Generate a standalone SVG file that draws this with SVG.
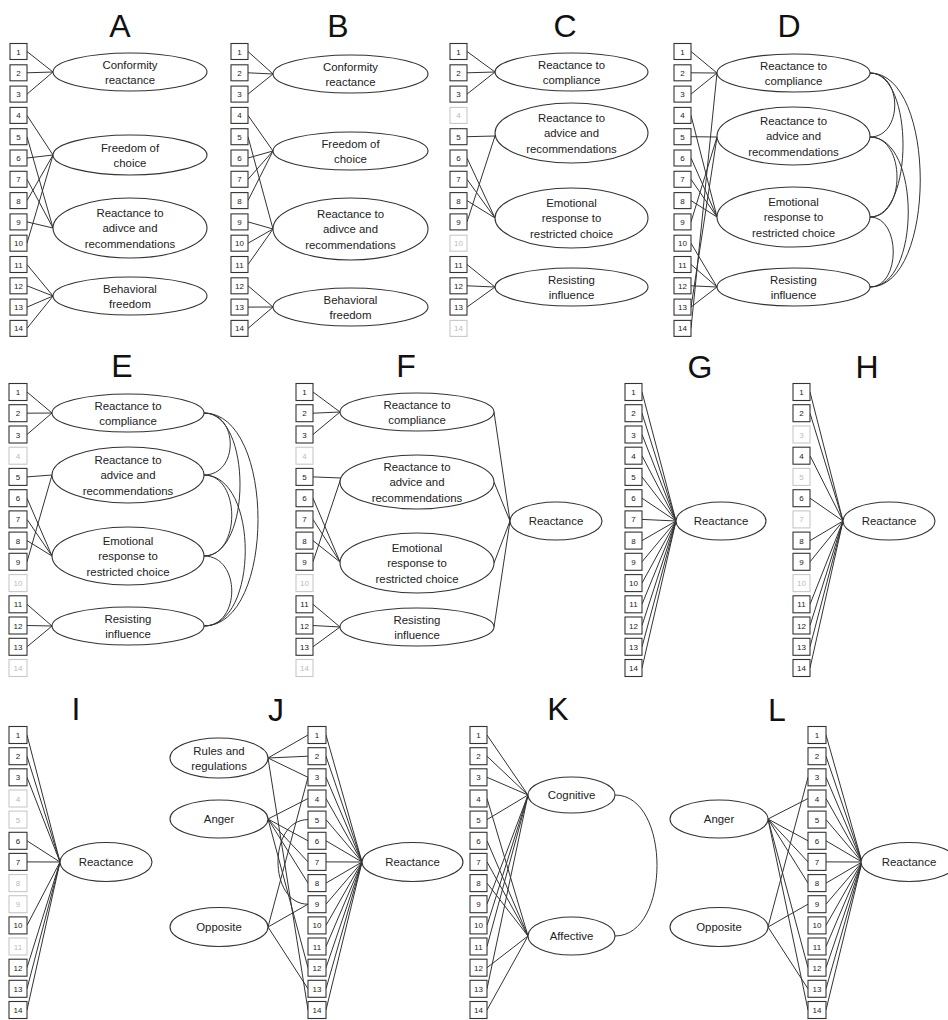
<svg xmlns="http://www.w3.org/2000/svg" width="948" height="1020" viewBox="0 0 948 1020">
<style>
.t{font-family:"Liberation Sans",Arial,sans-serif;font-size:32px;fill:#111;text-anchor:middle}
.bx rect{fill:#fff;stroke:#333;stroke-width:1.1}
.bx text{font-family:"Liberation Sans",Arial,sans-serif;font-size:8px;fill:#222;text-anchor:middle}
.gr rect{fill:#fff;stroke:#c8c8c8;stroke-width:1.1}
.gr text{font-family:"Liberation Sans",Arial,sans-serif;font-size:8px;fill:#bbb;text-anchor:middle}
.el ellipse{fill:#fff;stroke:#333;stroke-width:1.1}
.el text{font-family:"Liberation Sans",Arial,sans-serif;font-size:11.4px;fill:#222;text-anchor:middle}
.cn path{fill:none;stroke:#333;stroke-width:1}
</style>
<rect width="948" height="1020" fill="#fff"/>
<g id="titles">
<text class="t" x="120" y="37">A</text>
<text class="t" x="338" y="37">B</text>
<text class="t" x="565" y="37">C</text>
<text class="t" x="789" y="37">D</text>
<text class="t" x="122" y="377">E</text>
<text class="t" x="406" y="377">F</text>
<text class="t" x="700" y="378">G</text>
<text class="t" x="867" y="378">H</text>
<text class="t" x="76" y="720">I</text>
<text class="t" x="276" y="721">J</text>
<text class="t" x="558" y="720">K</text>
<text class="t" x="777" y="721">L</text>
</g>
<g id="connectors" class="cn">
<!-- A -->
<path d="M27 51.5L53 72"/><path d="M27 72.8L53 72"/><path d="M27 94.1L53 72"/>
<path d="M27 115.4L53 155"/><path d="M27 158L53 155"/><path d="M27 200.6L53 155"/><path d="M27 243.2L53 155"/>
<path d="M27 136.7L53 228"/><path d="M27 179.3L53 228"/><path d="M27 221.9L53 228"/>
<path d="M27 264.5L53 296"/><path d="M27 285.8L53 296"/><path d="M27 307.1L53 296"/><path d="M27 328.4L53 296"/>
<!-- B -->
<path d="M248 51.5L273 74"/><path d="M248 72.8L273 74"/><path d="M248 94.1L273 74"/>
<path d="M248 115.4L273 151"/><path d="M248 158L273 151"/><path d="M248 179.3L273 151"/><path d="M248 200.6L273 151"/>
<path d="M248 136.7L273 229"/><path d="M248 221.9L273 229"/><path d="M248 243.2L273 229"/><path d="M248 264.5L273 229"/>
<path d="M248 285.8L273 307"/><path d="M248 307.1L273 307"/><path d="M248 328.4L273 307"/>
<!-- C -->
<path d="M467 51.5L495 72"/><path d="M467 72.8L495 72"/><path d="M467 94.1L495 72"/>
<path d="M467 136.7L495 136"/><path d="M467 221.9L495 136"/>
<path d="M467 158L495 218"/><path d="M467 179.3L495 218"/><path d="M467 200.6L495 218"/>
<path d="M467 264.5L495 287"/><path d="M467 285.8L495 287"/><path d="M467 307.1L495 287"/>
<!-- D -->
<path d="M691 51.5L717 73"/><path d="M691 72.8L717 73"/><path d="M691 94.1L717 73"/><path d="M691 328.4L717 73"/>
<path d="M691 136.7L717 137"/><path d="M691 221.9L717 137"/><path d="M691 307.1L717 137"/>
<path d="M691 115.4L717 217"/><path d="M691 158L717 217"/><path d="M691 179.3L717 217"/><path d="M691 200.6L717 217"/>
<path d="M691 243.2L717 287"/><path d="M691 264.5L717 287"/><path d="M691 285.8L717 287"/><path d="M691 307.1L717 287"/>
<path d="M870 73C903 73 903 137 870 137"/>
<path d="M870 73C914 73 914 217 870 217"/>
<path d="M870 73C937 73 937 287 870 287"/>
<path d="M870 137C906 137 906 217 870 217"/>
<path d="M870 137C921 137 921 287 870 287"/>
<path d="M870 217C901 217 901 287 870 287"/>
<!-- E -->
<path d="M27 392L52 413"/><path d="M27 413.2L52 413"/><path d="M27 434.5L52 413"/>
<path d="M27 476.9L52 475"/><path d="M27 561.8L52 475"/>
<path d="M27 498.2L52 556"/><path d="M27 519.4L52 556"/><path d="M27 540.6L52 556"/>
<path d="M27 604.3L52 626"/><path d="M27 625.5L52 626"/><path d="M27 646.8L52 626"/>
<path d="M204 413C239 413 239 475 204 475"/>
<path d="M204 413C252 413 252 556 204 556"/>
<path d="M204 413C276 413 276 626 204 626"/>
<path d="M204 475C241 475 241 556 204 556"/>
<path d="M204 475C259 475 259 626 204 626"/>
<path d="M204 556C241 556 241 626 204 626"/>
<!-- F -->
<path d="M313 392L340 412"/><path d="M313 413.2L340 412"/><path d="M313 434.5L340 412"/>
<path d="M313 476.9L341 478"/><path d="M313 561.8L341 478"/>
<path d="M313 498.2L340 562"/><path d="M313 519.4L340 562"/><path d="M313 540.6L340 562"/>
<path d="M313 604.3L340 627"/><path d="M313 625.5L340 627"/><path d="M313 646.8L340 627"/>
<path d="M494 412L510 521"/><path d="M494 482L510 521"/><path d="M494 563L510 521"/><path d="M494 627L510 521"/>
<!-- G -->
<path d="M642 392L676 521"/><path d="M642 413.2L676 521"/><path d="M642 434.5L676 521"/><path d="M642 455.7L676 521"/>
<path d="M642 476.9L676 521"/><path d="M642 498.2L676 521"/><path d="M642 519.4L676 521"/><path d="M642 540.6L676 521"/>
<path d="M642 561.8L676 521"/><path d="M642 583.1L676 521"/><path d="M642 604.3L676 521"/><path d="M642 625.5L676 521"/>
<path d="M642 646.8L676 521"/><path d="M642 668L676 521"/>
<!-- H -->
<path d="M810 392L843 521"/><path d="M810 413.2L843 521"/><path d="M810 455.7L843 521"/><path d="M810 498.2L843 521"/>
<path d="M810 540.6L843 521"/><path d="M810 561.8L843 521"/><path d="M810 604.3L843 521"/><path d="M810 625.5L843 521"/>
<path d="M810 646.8L843 521"/><path d="M810 668L843 521"/>
<!-- I -->
<path d="M27 735L60 862"/><path d="M27 756.2L60 862"/><path d="M27 777.3L60 862"/><path d="M27 840.8L60 862"/>
<path d="M27 861.9L60 862"/><path d="M27 925.4L60 862"/><path d="M27 967.7L60 862"/><path d="M27 988.8L60 862"/>
<path d="M27 1010L60 862"/>
<!-- J -->
<path d="M326 735L362 862"/><path d="M326 756.2L362 862"/><path d="M326 777.3L362 862"/><path d="M326 798.5L362 862"/>
<path d="M326 819.6L362 862"/><path d="M326 840.8L362 862"/><path d="M326 861.9L362 862"/><path d="M326 883.1L362 862"/>
<path d="M326 904.2L362 862"/><path d="M326 925.4L362 862"/><path d="M326 946.5L362 862"/><path d="M326 967.7L362 862"/>
<path d="M326 988.8L362 862"/><path d="M326 1010L362 862"/>
<path d="M268 758L308 735"/><path d="M268 758L308 756.2"/><path d="M268 758L308 777.3"/><path d="M268 758L308 1010"/>
<path d="M268 819L308 798.5"/><path d="M268 819L308 840.8"/><path d="M268 819L308 861.9"/><path d="M268 819L308 883.1"/><path d="M268 819L308 967.7"/>
<path d="M268 927L308 777.3"/><path d="M268 927L308 904.2"/><path d="M268 927L308 988.8"/>
<path d="M308 819.6C268 819.6 268 904.2 308 904.2"/>
<!-- K -->
<path d="M487 735L528 795"/><path d="M487 756.2L528 795"/><path d="M487 777.3L528 795"/><path d="M487 819.6L528 795"/>
<path d="M487 904.2L528 795"/><path d="M487 925.4L528 795"/><path d="M487 946.5L528 795"/><path d="M487 988.8L528 795"/>
<path d="M487 798.5L528 936"/><path d="M487 840.8L528 936"/><path d="M487 861.9L528 936"/><path d="M487 883.1L528 936"/>
<path d="M487 967.7L528 936"/><path d="M487 1010L528 936"/>
<path d="M615 795C671 795 671 936 615 936"/>
<!-- L -->
<path d="M826 735L862 862"/><path d="M826 756.2L862 862"/><path d="M826 777.3L862 862"/><path d="M826 798.5L862 862"/>
<path d="M826 819.6L862 862"/><path d="M826 840.8L862 862"/><path d="M826 861.9L862 862"/><path d="M826 883.1L862 862"/>
<path d="M826 904.2L862 862"/><path d="M826 925.4L862 862"/><path d="M826 946.5L862 862"/><path d="M826 967.7L862 862"/>
<path d="M826 988.8L862 862"/><path d="M826 1010L862 862"/>
<path d="M768 819L808 798.5"/><path d="M768 819L808 840.8"/><path d="M768 819L808 861.9"/><path d="M768 819L808 883.1"/><path d="M768 819L808 967.7"/><path d="M768 819L808 1010"/>
<path d="M768 927L808 777.3"/><path d="M768 927L808 904.2"/><path d="M768 927L808 988.8"/>
</g>
<!-- Panel A -->
<g id="panel-A">
<g id="A-1" class="bx" transform="translate(10 43.5)"><rect width="17" height="16"/><text x="8.5" y="11">1</text></g>
<g id="A-2" class="bx" transform="translate(10 64.8)"><rect width="17" height="16"/><text x="8.5" y="11">2</text></g>
<g id="A-3" class="bx" transform="translate(10 86.1)"><rect width="17" height="16"/><text x="8.5" y="11">3</text></g>
<g id="A-4" class="bx" transform="translate(10 107.4)"><rect width="17" height="16"/><text x="8.5" y="11">4</text></g>
<g id="A-5" class="bx" transform="translate(10 128.7)"><rect width="17" height="16"/><text x="8.5" y="11">5</text></g>
<g id="A-6" class="bx" transform="translate(10 150)"><rect width="17" height="16"/><text x="8.5" y="11">6</text></g>
<g id="A-7" class="bx" transform="translate(10 171.3)"><rect width="17" height="16"/><text x="8.5" y="11">7</text></g>
<g id="A-8" class="bx" transform="translate(10 192.6)"><rect width="17" height="16"/><text x="8.5" y="11">8</text></g>
<g id="A-9" class="bx" transform="translate(10 213.9)"><rect width="17" height="16"/><text x="8.5" y="11">9</text></g>
<g id="A-10" class="bx" transform="translate(10 235.2)"><rect width="17" height="16"/><text x="8.5" y="11">10</text></g>
<g id="A-11" class="bx" transform="translate(10 256.5)"><rect width="17" height="16"/><text x="8.5" y="11">11</text></g>
<g id="A-12" class="bx" transform="translate(10 277.8)"><rect width="17" height="16"/><text x="8.5" y="11">12</text></g>
<g id="A-13" class="bx" transform="translate(10 299.1)"><rect width="17" height="16"/><text x="8.5" y="11">13</text></g>
<g id="A-14" class="bx" transform="translate(10 320.4)"><rect width="17" height="16"/><text x="8.5" y="11">14</text></g>
<g id="A-conf" class="el"><ellipse cx="130" cy="72" rx="77" ry="19"/><text x="130" y="68.5">Conformity</text><text x="130" y="84">reactance</text></g>
<g id="A-free" class="el"><ellipse cx="130" cy="155" rx="77" ry="20"/><text x="130" y="151.5">Freedom of</text><text x="130" y="167">choice</text></g>
<g id="A-adv" class="el"><ellipse cx="130" cy="228" rx="77" ry="30"/><text x="130" y="216.5">Reactance to</text><text x="130" y="232">adivce and</text><text x="130" y="247.5">recommendations</text></g>
<g id="A-beh" class="el"><ellipse cx="130" cy="296" rx="77" ry="19"/><text x="130" y="292.5">Behavioral</text><text x="130" y="308">freedom</text></g>
</g>
<!-- Panel B -->
<g id="panel-B">
<g id="B-1" class="bx" transform="translate(231 43.5)"><rect width="17" height="16"/><text x="8.5" y="11">1</text></g>
<g id="B-2" class="bx" transform="translate(231 64.8)"><rect width="17" height="16"/><text x="8.5" y="11">2</text></g>
<g id="B-3" class="bx" transform="translate(231 86.1)"><rect width="17" height="16"/><text x="8.5" y="11">3</text></g>
<g id="B-4" class="bx" transform="translate(231 107.4)"><rect width="17" height="16"/><text x="8.5" y="11">4</text></g>
<g id="B-5" class="bx" transform="translate(231 128.7)"><rect width="17" height="16"/><text x="8.5" y="11">5</text></g>
<g id="B-6" class="bx" transform="translate(231 150)"><rect width="17" height="16"/><text x="8.5" y="11">6</text></g>
<g id="B-7" class="bx" transform="translate(231 171.3)"><rect width="17" height="16"/><text x="8.5" y="11">7</text></g>
<g id="B-8" class="bx" transform="translate(231 192.6)"><rect width="17" height="16"/><text x="8.5" y="11">8</text></g>
<g id="B-9" class="bx" transform="translate(231 213.9)"><rect width="17" height="16"/><text x="8.5" y="11">9</text></g>
<g id="B-10" class="bx" transform="translate(231 235.2)"><rect width="17" height="16"/><text x="8.5" y="11">10</text></g>
<g id="B-11" class="bx" transform="translate(231 256.5)"><rect width="17" height="16"/><text x="8.5" y="11">11</text></g>
<g id="B-12" class="bx" transform="translate(231 277.8)"><rect width="17" height="16"/><text x="8.5" y="11">12</text></g>
<g id="B-13" class="bx" transform="translate(231 299.1)"><rect width="17" height="16"/><text x="8.5" y="11">13</text></g>
<g id="B-14" class="bx" transform="translate(231 320.4)"><rect width="17" height="16"/><text x="8.5" y="11">14</text></g>
<g id="B-conf" class="el"><ellipse cx="350.5" cy="74" rx="77.5" ry="19"/><text x="350.5" y="70.5">Conformity</text><text x="350.5" y="86">reactance</text></g>
<g id="B-free" class="el"><ellipse cx="350.5" cy="151" rx="77.5" ry="19"/><text x="350.5" y="147.5">Freedom of</text><text x="350.5" y="163">choice</text></g>
<g id="B-adv" class="el"><ellipse cx="350.5" cy="229" rx="77.5" ry="31"/><text x="350.5" y="217.5">Reactance to</text><text x="350.5" y="233">adivce and</text><text x="350.5" y="248.5">recommendations</text></g>
<g id="B-beh" class="el"><ellipse cx="350.5" cy="307" rx="77.5" ry="19"/><text x="350.5" y="303.5">Behavioral</text><text x="350.5" y="319">freedom</text></g>
</g>
<!-- Panel C -->
<g id="panel-C">
<g id="C-1" class="bx" transform="translate(450 43.5)"><rect width="17" height="16"/><text x="8.5" y="11">1</text></g>
<g id="C-2" class="bx" transform="translate(450 64.8)"><rect width="17" height="16"/><text x="8.5" y="11">2</text></g>
<g id="C-3" class="bx" transform="translate(450 86.1)"><rect width="17" height="16"/><text x="8.5" y="11">3</text></g>
<g id="C-4" class="gr" transform="translate(450 107.4)"><rect width="17" height="16"/><text x="8.5" y="11">4</text></g>
<g id="C-5" class="bx" transform="translate(450 128.7)"><rect width="17" height="16"/><text x="8.5" y="11">5</text></g>
<g id="C-6" class="bx" transform="translate(450 150)"><rect width="17" height="16"/><text x="8.5" y="11">6</text></g>
<g id="C-7" class="bx" transform="translate(450 171.3)"><rect width="17" height="16"/><text x="8.5" y="11">7</text></g>
<g id="C-8" class="bx" transform="translate(450 192.6)"><rect width="17" height="16"/><text x="8.5" y="11">8</text></g>
<g id="C-9" class="bx" transform="translate(450 213.9)"><rect width="17" height="16"/><text x="8.5" y="11">9</text></g>
<g id="C-10" class="gr" transform="translate(450 235.2)"><rect width="17" height="16"/><text x="8.5" y="11">10</text></g>
<g id="C-11" class="bx" transform="translate(450 256.5)"><rect width="17" height="16"/><text x="8.5" y="11">11</text></g>
<g id="C-12" class="bx" transform="translate(450 277.8)"><rect width="17" height="16"/><text x="8.5" y="11">12</text></g>
<g id="C-13" class="bx" transform="translate(450 299.1)"><rect width="17" height="16"/><text x="8.5" y="11">13</text></g>
<g id="C-14" class="gr" transform="translate(450 320.4)"><rect width="17" height="16"/><text x="8.5" y="11">14</text></g>
<g id="C-comp" class="el"><ellipse cx="571.5" cy="72" rx="76.5" ry="19"/><text x="571.5" y="68.5">Reactance to</text><text x="571.5" y="84">compliance</text></g>
<g id="C-adv" class="el"><ellipse cx="571.5" cy="133" rx="76.5" ry="30"/><text x="571.5" y="121.5">Reactance to</text><text x="571.5" y="137">advice and</text><text x="571.5" y="152.5">recommendations</text></g>
<g id="C-emo" class="el"><ellipse cx="571.5" cy="218" rx="76.5" ry="30"/><text x="571.5" y="206.5">Emotional</text><text x="571.5" y="222">response to</text><text x="571.5" y="237.5">restricted choice</text></g>
<g id="C-res" class="el"><ellipse cx="571.5" cy="287" rx="76.5" ry="19"/><text x="571.5" y="283.5">Resisting</text><text x="571.5" y="299">influence</text></g>
</g>
<!-- Panel D -->
<g id="panel-D">
<g id="D-1" class="bx" transform="translate(674 43.5)"><rect width="17" height="16"/><text x="8.5" y="11">1</text></g>
<g id="D-2" class="bx" transform="translate(674 64.8)"><rect width="17" height="16"/><text x="8.5" y="11">2</text></g>
<g id="D-3" class="bx" transform="translate(674 86.1)"><rect width="17" height="16"/><text x="8.5" y="11">3</text></g>
<g id="D-4" class="bx" transform="translate(674 107.4)"><rect width="17" height="16"/><text x="8.5" y="11">4</text></g>
<g id="D-5" class="bx" transform="translate(674 128.7)"><rect width="17" height="16"/><text x="8.5" y="11">5</text></g>
<g id="D-6" class="bx" transform="translate(674 150)"><rect width="17" height="16"/><text x="8.5" y="11">6</text></g>
<g id="D-7" class="bx" transform="translate(674 171.3)"><rect width="17" height="16"/><text x="8.5" y="11">7</text></g>
<g id="D-8" class="bx" transform="translate(674 192.6)"><rect width="17" height="16"/><text x="8.5" y="11">8</text></g>
<g id="D-9" class="bx" transform="translate(674 213.9)"><rect width="17" height="16"/><text x="8.5" y="11">9</text></g>
<g id="D-10" class="bx" transform="translate(674 235.2)"><rect width="17" height="16"/><text x="8.5" y="11">10</text></g>
<g id="D-11" class="bx" transform="translate(674 256.5)"><rect width="17" height="16"/><text x="8.5" y="11">11</text></g>
<g id="D-12" class="bx" transform="translate(674 277.8)"><rect width="17" height="16"/><text x="8.5" y="11">12</text></g>
<g id="D-13" class="bx" transform="translate(674 299.1)"><rect width="17" height="16"/><text x="8.5" y="11">13</text></g>
<g id="D-14" class="bx" transform="translate(674 320.4)"><rect width="17" height="16"/><text x="8.5" y="11">14</text></g>
<g id="D-comp" class="el"><ellipse cx="793.5" cy="73" rx="76.5" ry="19"/><text x="793.5" y="69.5">Reactance to</text><text x="793.5" y="85">compliance</text></g>
<g id="D-adv" class="el"><ellipse cx="793.5" cy="136" rx="76.5" ry="29"/><text x="793.5" y="124.5">Reactance to</text><text x="793.5" y="140">advice and</text><text x="793.5" y="155.5">recommendations</text></g>
<g id="D-emo" class="el"><ellipse cx="793.5" cy="217" rx="76.5" ry="30"/><text x="793.5" y="205.5">Emotional</text><text x="793.5" y="221">response to</text><text x="793.5" y="236.5">restricted choice</text></g>
<g id="D-res" class="el"><ellipse cx="793.5" cy="287" rx="76.5" ry="19"/><text x="793.5" y="283.5">Resisting</text><text x="793.5" y="299">influence</text></g>
</g>
<!-- Panel E -->
<g id="panel-E">
<g id="E-1" class="bx" transform="translate(9 383.5)"><rect width="18" height="17"/><text x="9" y="11.5">1</text></g>
<g id="E-2" class="bx" transform="translate(9 404.7)"><rect width="18" height="17"/><text x="9" y="11.5">2</text></g>
<g id="E-3" class="bx" transform="translate(9 426)"><rect width="18" height="17"/><text x="9" y="11.5">3</text></g>
<g id="E-4" class="gr" transform="translate(9 447.2)"><rect width="18" height="17"/><text x="9" y="11.5">4</text></g>
<g id="E-5" class="bx" transform="translate(9 468.4)"><rect width="18" height="17"/><text x="9" y="11.5">5</text></g>
<g id="E-6" class="bx" transform="translate(9 489.7)"><rect width="18" height="17"/><text x="9" y="11.5">6</text></g>
<g id="E-7" class="bx" transform="translate(9 510.9)"><rect width="18" height="17"/><text x="9" y="11.5">7</text></g>
<g id="E-8" class="bx" transform="translate(9 532.1)"><rect width="18" height="17"/><text x="9" y="11.5">8</text></g>
<g id="E-9" class="bx" transform="translate(9 553.3)"><rect width="18" height="17"/><text x="9" y="11.5">9</text></g>
<g id="E-10" class="gr" transform="translate(9 574.6)"><rect width="18" height="17"/><text x="9" y="11.5">10</text></g>
<g id="E-11" class="bx" transform="translate(9 595.8)"><rect width="18" height="17"/><text x="9" y="11.5">11</text></g>
<g id="E-12" class="bx" transform="translate(9 617)"><rect width="18" height="17"/><text x="9" y="11.5">12</text></g>
<g id="E-13" class="bx" transform="translate(9 638.3)"><rect width="18" height="17"/><text x="9" y="11.5">13</text></g>
<g id="E-14" class="gr" transform="translate(9 659.5)"><rect width="18" height="17"/><text x="9" y="11.5">14</text></g>
<g id="E-comp" class="el"><ellipse cx="128" cy="413" rx="76" ry="19"/><text x="128" y="409.5">Reactance to</text><text x="128" y="425">compliance</text></g>
<g id="E-adv" class="el"><ellipse cx="128" cy="475" rx="76" ry="28"/><text x="128" y="463.5">Reactance to</text><text x="128" y="479">advice and</text><text x="128" y="494.5">recommendations</text></g>
<g id="E-emo" class="el"><ellipse cx="128" cy="556" rx="76" ry="29"/><text x="128" y="544.5">Emotional</text><text x="128" y="560">response to</text><text x="128" y="575.5">restricted choice</text></g>
<g id="E-res" class="el"><ellipse cx="128" cy="626" rx="76" ry="19"/><text x="128" y="622.5">Resisting</text><text x="128" y="638">influence</text></g>
</g>
<!-- Panel F -->
<g id="panel-F">
<g id="F-1" class="bx" transform="translate(296 383.5)"><rect width="17" height="17"/><text x="8.5" y="11.5">1</text></g>
<g id="F-2" class="bx" transform="translate(296 404.7)"><rect width="17" height="17"/><text x="8.5" y="11.5">2</text></g>
<g id="F-3" class="bx" transform="translate(296 426)"><rect width="17" height="17"/><text x="8.5" y="11.5">3</text></g>
<g id="F-4" class="gr" transform="translate(296 447.2)"><rect width="17" height="17"/><text x="8.5" y="11.5">4</text></g>
<g id="F-5" class="bx" transform="translate(296 468.4)"><rect width="17" height="17"/><text x="8.5" y="11.5">5</text></g>
<g id="F-6" class="bx" transform="translate(296 489.7)"><rect width="17" height="17"/><text x="8.5" y="11.5">6</text></g>
<g id="F-7" class="bx" transform="translate(296 510.9)"><rect width="17" height="17"/><text x="8.5" y="11.5">7</text></g>
<g id="F-8" class="bx" transform="translate(296 532.1)"><rect width="17" height="17"/><text x="8.5" y="11.5">8</text></g>
<g id="F-9" class="bx" transform="translate(296 553.3)"><rect width="17" height="17"/><text x="8.5" y="11.5">9</text></g>
<g id="F-10" class="gr" transform="translate(296 574.6)"><rect width="17" height="17"/><text x="8.5" y="11.5">10</text></g>
<g id="F-11" class="bx" transform="translate(296 595.8)"><rect width="17" height="17"/><text x="8.5" y="11.5">11</text></g>
<g id="F-12" class="bx" transform="translate(296 617)"><rect width="17" height="17"/><text x="8.5" y="11.5">12</text></g>
<g id="F-13" class="bx" transform="translate(296 638.3)"><rect width="17" height="17"/><text x="8.5" y="11.5">13</text></g>
<g id="F-14" class="gr" transform="translate(296 659.5)"><rect width="17" height="17"/><text x="8.5" y="11.5">14</text></g>
<g id="F-comp" class="el"><ellipse cx="417" cy="412" rx="77" ry="19"/><text x="417" y="408.5">Reactance to</text><text x="417" y="424">compliance</text></g>
<g id="F-adv" class="el"><ellipse cx="417" cy="482" rx="77" ry="27"/><text x="417" y="470.5">Reactance to</text><text x="417" y="486">advice and</text><text x="417" y="501.5">recommendations</text></g>
<g id="F-emo" class="el"><ellipse cx="417" cy="563" rx="77" ry="30"/><text x="417" y="551.5">Emotional</text><text x="417" y="567">response to</text><text x="417" y="582.5">restricted choice</text></g>
<g id="F-res" class="el"><ellipse cx="417" cy="627" rx="77" ry="19"/><text x="417" y="623.5">Resisting</text><text x="417" y="639">influence</text></g>
<g id="F-react" class="el"><ellipse cx="556" cy="521" rx="46" ry="19"/><text x="556" y="525">Reactance</text></g>
</g>
<!-- Panel G -->
<g id="panel-G">
<g id="G-1" class="bx" transform="translate(625 383.5)"><rect width="17" height="17"/><text x="8.5" y="11.5">1</text></g>
<g id="G-2" class="bx" transform="translate(625 404.7)"><rect width="17" height="17"/><text x="8.5" y="11.5">2</text></g>
<g id="G-3" class="bx" transform="translate(625 426)"><rect width="17" height="17"/><text x="8.5" y="11.5">3</text></g>
<g id="G-4" class="bx" transform="translate(625 447.2)"><rect width="17" height="17"/><text x="8.5" y="11.5">4</text></g>
<g id="G-5" class="bx" transform="translate(625 468.4)"><rect width="17" height="17"/><text x="8.5" y="11.5">5</text></g>
<g id="G-6" class="bx" transform="translate(625 489.7)"><rect width="17" height="17"/><text x="8.5" y="11.5">6</text></g>
<g id="G-7" class="bx" transform="translate(625 510.9)"><rect width="17" height="17"/><text x="8.5" y="11.5">7</text></g>
<g id="G-8" class="bx" transform="translate(625 532.1)"><rect width="17" height="17"/><text x="8.5" y="11.5">8</text></g>
<g id="G-9" class="bx" transform="translate(625 553.3)"><rect width="17" height="17"/><text x="8.5" y="11.5">9</text></g>
<g id="G-10" class="bx" transform="translate(625 574.6)"><rect width="17" height="17"/><text x="8.5" y="11.5">10</text></g>
<g id="G-11" class="bx" transform="translate(625 595.8)"><rect width="17" height="17"/><text x="8.5" y="11.5">11</text></g>
<g id="G-12" class="bx" transform="translate(625 617)"><rect width="17" height="17"/><text x="8.5" y="11.5">12</text></g>
<g id="G-13" class="bx" transform="translate(625 638.3)"><rect width="17" height="17"/><text x="8.5" y="11.5">13</text></g>
<g id="G-14" class="bx" transform="translate(625 659.5)"><rect width="17" height="17"/><text x="8.5" y="11.5">14</text></g>
<g id="G-react" class="el"><ellipse cx="721" cy="521" rx="45" ry="19"/><text x="721" y="525">Reactance</text></g>
</g>
<!-- Panel H -->
<g id="panel-H">
<g id="H-1" class="bx" transform="translate(793 383.5)"><rect width="17" height="17"/><text x="8.5" y="11.5">1</text></g>
<g id="H-2" class="bx" transform="translate(793 404.7)"><rect width="17" height="17"/><text x="8.5" y="11.5">2</text></g>
<g id="H-3" class="gr" transform="translate(793 426)"><rect width="17" height="17"/><text x="8.5" y="11.5">3</text></g>
<g id="H-4" class="bx" transform="translate(793 447.2)"><rect width="17" height="17"/><text x="8.5" y="11.5">4</text></g>
<g id="H-5" class="gr" transform="translate(793 468.4)"><rect width="17" height="17"/><text x="8.5" y="11.5">5</text></g>
<g id="H-6" class="bx" transform="translate(793 489.7)"><rect width="17" height="17"/><text x="8.5" y="11.5">6</text></g>
<g id="H-7" class="gr" transform="translate(793 510.9)"><rect width="17" height="17"/><text x="8.5" y="11.5">7</text></g>
<g id="H-8" class="bx" transform="translate(793 532.1)"><rect width="17" height="17"/><text x="8.5" y="11.5">8</text></g>
<g id="H-9" class="bx" transform="translate(793 553.3)"><rect width="17" height="17"/><text x="8.5" y="11.5">9</text></g>
<g id="H-10" class="gr" transform="translate(793 574.6)"><rect width="17" height="17"/><text x="8.5" y="11.5">10</text></g>
<g id="H-11" class="bx" transform="translate(793 595.8)"><rect width="17" height="17"/><text x="8.5" y="11.5">11</text></g>
<g id="H-12" class="bx" transform="translate(793 617)"><rect width="17" height="17"/><text x="8.5" y="11.5">12</text></g>
<g id="H-13" class="bx" transform="translate(793 638.3)"><rect width="17" height="17"/><text x="8.5" y="11.5">13</text></g>
<g id="H-14" class="bx" transform="translate(793 659.5)"><rect width="17" height="17"/><text x="8.5" y="11.5">14</text></g>
<g id="H-react" class="el"><ellipse cx="889" cy="521" rx="46" ry="19"/><text x="889" y="525">Reactance</text></g>
</g>
<!-- Panel I -->
<g id="panel-I">
<g id="I-1" class="bx" transform="translate(9 726.5)"><rect width="18" height="17"/><text x="9" y="11.5">1</text></g>
<g id="I-2" class="bx" transform="translate(9 747.7)"><rect width="18" height="17"/><text x="9" y="11.5">2</text></g>
<g id="I-3" class="bx" transform="translate(9 768.8)"><rect width="18" height="17"/><text x="9" y="11.5">3</text></g>
<g id="I-4" class="gr" transform="translate(9 790)"><rect width="18" height="17"/><text x="9" y="11.5">4</text></g>
<g id="I-5" class="gr" transform="translate(9 811.1)"><rect width="18" height="17"/><text x="9" y="11.5">5</text></g>
<g id="I-6" class="bx" transform="translate(9 832.3)"><rect width="18" height="17"/><text x="9" y="11.5">6</text></g>
<g id="I-7" class="bx" transform="translate(9 853.4)"><rect width="18" height="17"/><text x="9" y="11.5">7</text></g>
<g id="I-8" class="gr" transform="translate(9 874.6)"><rect width="18" height="17"/><text x="9" y="11.5">8</text></g>
<g id="I-9" class="gr" transform="translate(9 895.7)"><rect width="18" height="17"/><text x="9" y="11.5">9</text></g>
<g id="I-10" class="bx" transform="translate(9 916.9)"><rect width="18" height="17"/><text x="9" y="11.5">10</text></g>
<g id="I-11" class="gr" transform="translate(9 938)"><rect width="18" height="17"/><text x="9" y="11.5">11</text></g>
<g id="I-12" class="bx" transform="translate(9 959.2)"><rect width="18" height="17"/><text x="9" y="11.5">12</text></g>
<g id="I-13" class="bx" transform="translate(9 980.3)"><rect width="18" height="17"/><text x="9" y="11.5">13</text></g>
<g id="I-14" class="bx" transform="translate(9 1001.5)"><rect width="18" height="17"/><text x="9" y="11.5">14</text></g>
<g id="I-react" class="el"><ellipse cx="106" cy="862" rx="46" ry="19.5"/><text x="106" y="866">Reactance</text></g>
</g>
<!-- Panel J -->
<g id="panel-J">
<g id="J-1" class="bx" transform="translate(308 726.5)"><rect width="18" height="17"/><text x="9" y="11.5">1</text></g>
<g id="J-2" class="bx" transform="translate(308 747.7)"><rect width="18" height="17"/><text x="9" y="11.5">2</text></g>
<g id="J-3" class="bx" transform="translate(308 768.8)"><rect width="18" height="17"/><text x="9" y="11.5">3</text></g>
<g id="J-4" class="bx" transform="translate(308 790)"><rect width="18" height="17"/><text x="9" y="11.5">4</text></g>
<g id="J-5" class="bx" transform="translate(308 811.1)"><rect width="18" height="17"/><text x="9" y="11.5">5</text></g>
<g id="J-6" class="bx" transform="translate(308 832.3)"><rect width="18" height="17"/><text x="9" y="11.5">6</text></g>
<g id="J-7" class="bx" transform="translate(308 853.4)"><rect width="18" height="17"/><text x="9" y="11.5">7</text></g>
<g id="J-8" class="bx" transform="translate(308 874.6)"><rect width="18" height="17"/><text x="9" y="11.5">8</text></g>
<g id="J-9" class="bx" transform="translate(308 895.7)"><rect width="18" height="17"/><text x="9" y="11.5">9</text></g>
<g id="J-10" class="bx" transform="translate(308 916.9)"><rect width="18" height="17"/><text x="9" y="11.5">10</text></g>
<g id="J-11" class="bx" transform="translate(308 938)"><rect width="18" height="17"/><text x="9" y="11.5">11</text></g>
<g id="J-12" class="bx" transform="translate(308 959.2)"><rect width="18" height="17"/><text x="9" y="11.5">12</text></g>
<g id="J-13" class="bx" transform="translate(308 980.3)"><rect width="18" height="17"/><text x="9" y="11.5">13</text></g>
<g id="J-14" class="bx" transform="translate(308 1001.5)"><rect width="18" height="17"/><text x="9" y="11.5">14</text></g>
<g id="J-rules" class="el"><ellipse cx="219" cy="758" rx="49" ry="20"/><text x="219" y="754.5">Rules and</text><text x="219" y="770">regulations</text></g>
<g id="J-anger" class="el"><ellipse cx="219" cy="819" rx="49" ry="19"/><text x="219" y="823">Anger</text></g>
<g id="J-opp" class="el"><ellipse cx="219" cy="927" rx="49" ry="19.5"/><text x="219" y="931">Opposite</text></g>
<g id="J-react" class="el"><ellipse cx="412.5" cy="862" rx="50.5" ry="19.5"/><text x="412.5" y="866">Reactance</text></g>
</g>
<!-- Panel K -->
<g id="panel-K">
<g id="K-1" class="bx" transform="translate(470 726.5)"><rect width="17" height="17"/><text x="8.5" y="11.5">1</text></g>
<g id="K-2" class="bx" transform="translate(470 747.7)"><rect width="17" height="17"/><text x="8.5" y="11.5">2</text></g>
<g id="K-3" class="bx" transform="translate(470 768.8)"><rect width="17" height="17"/><text x="8.5" y="11.5">3</text></g>
<g id="K-4" class="bx" transform="translate(470 790)"><rect width="17" height="17"/><text x="8.5" y="11.5">4</text></g>
<g id="K-5" class="bx" transform="translate(470 811.1)"><rect width="17" height="17"/><text x="8.5" y="11.5">5</text></g>
<g id="K-6" class="bx" transform="translate(470 832.3)"><rect width="17" height="17"/><text x="8.5" y="11.5">6</text></g>
<g id="K-7" class="bx" transform="translate(470 853.4)"><rect width="17" height="17"/><text x="8.5" y="11.5">7</text></g>
<g id="K-8" class="bx" transform="translate(470 874.6)"><rect width="17" height="17"/><text x="8.5" y="11.5">8</text></g>
<g id="K-9" class="bx" transform="translate(470 895.7)"><rect width="17" height="17"/><text x="8.5" y="11.5">9</text></g>
<g id="K-10" class="bx" transform="translate(470 916.9)"><rect width="17" height="17"/><text x="8.5" y="11.5">10</text></g>
<g id="K-11" class="bx" transform="translate(470 938)"><rect width="17" height="17"/><text x="8.5" y="11.5">11</text></g>
<g id="K-12" class="bx" transform="translate(470 959.2)"><rect width="17" height="17"/><text x="8.5" y="11.5">12</text></g>
<g id="K-13" class="bx" transform="translate(470 980.3)"><rect width="17" height="17"/><text x="8.5" y="11.5">13</text></g>
<g id="K-14" class="bx" transform="translate(470 1001.5)"><rect width="17" height="17"/><text x="8.5" y="11.5">14</text></g>
<g id="K-cog" class="el"><ellipse cx="571.5" cy="795" rx="43.5" ry="18"/><text x="571.5" y="799">Cognitive</text></g>
<g id="K-aff" class="el"><ellipse cx="571.5" cy="936" rx="43.5" ry="19"/><text x="571.5" y="940">Affective</text></g>
</g>
<!-- Panel L -->
<g id="panel-L">
<g id="L-1" class="bx" transform="translate(808 726.5)"><rect width="18" height="17"/><text x="9" y="11.5">1</text></g>
<g id="L-2" class="bx" transform="translate(808 747.7)"><rect width="18" height="17"/><text x="9" y="11.5">2</text></g>
<g id="L-3" class="bx" transform="translate(808 768.8)"><rect width="18" height="17"/><text x="9" y="11.5">3</text></g>
<g id="L-4" class="bx" transform="translate(808 790)"><rect width="18" height="17"/><text x="9" y="11.5">4</text></g>
<g id="L-5" class="bx" transform="translate(808 811.1)"><rect width="18" height="17"/><text x="9" y="11.5">5</text></g>
<g id="L-6" class="bx" transform="translate(808 832.3)"><rect width="18" height="17"/><text x="9" y="11.5">6</text></g>
<g id="L-7" class="bx" transform="translate(808 853.4)"><rect width="18" height="17"/><text x="9" y="11.5">7</text></g>
<g id="L-8" class="bx" transform="translate(808 874.6)"><rect width="18" height="17"/><text x="9" y="11.5">8</text></g>
<g id="L-9" class="bx" transform="translate(808 895.7)"><rect width="18" height="17"/><text x="9" y="11.5">9</text></g>
<g id="L-10" class="bx" transform="translate(808 916.9)"><rect width="18" height="17"/><text x="9" y="11.5">10</text></g>
<g id="L-11" class="bx" transform="translate(808 938)"><rect width="18" height="17"/><text x="9" y="11.5">11</text></g>
<g id="L-12" class="bx" transform="translate(808 959.2)"><rect width="18" height="17"/><text x="9" y="11.5">12</text></g>
<g id="L-13" class="bx" transform="translate(808 980.3)"><rect width="18" height="17"/><text x="9" y="11.5">13</text></g>
<g id="L-14" class="bx" transform="translate(808 1001.5)"><rect width="18" height="17"/><text x="9" y="11.5">14</text></g>
<g id="L-anger" class="el"><ellipse cx="719" cy="819" rx="49" ry="19"/><text x="719" y="823">Anger</text></g>
<g id="L-opp" class="el"><ellipse cx="719" cy="927" rx="49" ry="19.5"/><text x="719" y="931">Opposite</text></g>
<g id="L-react" class="el"><ellipse cx="909" cy="862" rx="48" ry="19.5"/><text x="909" y="866">Reactance</text></g>
</g>
</svg>
